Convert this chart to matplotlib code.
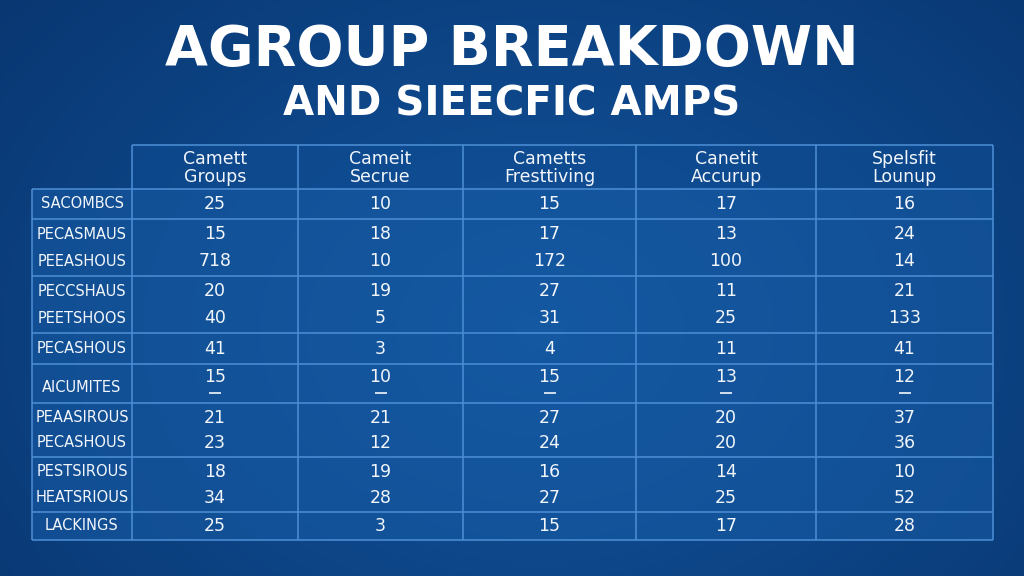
import numpy as np
import matplotlib
matplotlib.use("Agg")
import matplotlib.pyplot as plt
from matplotlib.patches import Rectangle

# --- data ---
title_top = "AGROUP BREAKDOWN"
title_bottom = "AND SIEECFIC AMPS"

col_headers = ["Camett\nGroups", "Cameit\nSecrue", "Cametts\nFresttiving",
               "Canetit\nAccurup", "Spelsfit\nLounup"]

row_labels = ["SACOMBCS", "PECASMAUS", "PEEASHOUS", "PECCSHAUS", "PEETSHOOS",
              "PECASHOUS", "AICUMITES", "PEAASIROUS", "PECASHOUS",
              "PESTSIROUS", "HEATSRIOUS", "LACKINGS"]

col_groups = [25, 15, 718, 20, 40, 41, 15, 21, 23, 18, 34, 25]
col_secrue = [10, 18, 10, 19, 5, 3, 10, 21, 12, 19, 28, 3]
col_frest = [15, 17, 172, 27, 31, 4, 15, 27, 24, 16, 27, 15]
col_accurup = [17, 13, 100, 11, 25, 11, 13, 20, 20, 14, 25, 17]
col_lounup = [16, 24, 14, 21, 133, 41, 12, 37, 36, 10, 52, 28]

# rows that share one bordered block
row_blocks = [[0], [1, 2], [3, 4], [5], [6], [7, 8], [9, 10], [11]]
dashed_rows = [6]  # rows with a small dash under the value

# --- layout (pixel coords) ---
W, H = 1024, 576
col_edges = [132, 298, 463, 636, 816, 993]
label_left = 32
header_top, header_bottom = 145, 189
block_edges = [189, 219, 276, 333, 364, 403, 457, 512, 540]

line_col = "#4d8fd6"
text_col = "#f2f6fb"

fig = plt.figure(figsize=(W / 100, H / 100), dpi=100)
ax = fig.add_axes([0, 0, 1, 1])
ax.set_xlim(0, W)
ax.set_ylim(H, 0)
ax.axis("off")

# background gradient
yy, xx = np.mgrid[0:H, 0:W]
r = np.sqrt(((xx - 540) / 700.0) ** 2 + ((yy - 330) / 520.0) ** 2)
t = np.clip(r, 0, 1)[..., None]
inner = np.array([0x12, 0x55, 0x9e]) / 255
outer = np.array([0x09, 0x37, 0x72]) / 255
bg = inner * (1 - t) + outer * t
ax.imshow(bg, extent=[0, W, H, 0], aspect="auto", zorder=0)

# table fills
ax.add_patch(Rectangle((col_edges[0], header_top), col_edges[-1] - col_edges[0],
                       header_bottom - header_top, facecolor="#0f4c92",
                       alpha=0.6, edgecolor="none", zorder=1))
ax.add_patch(Rectangle((label_left, block_edges[0]), col_edges[-1] - label_left,
                       block_edges[-1] - block_edges[0], facecolor="#175ca6",
                       alpha=0.55, edgecolor="none", zorder=1))

# grid lines
lw = 1.1
ax.hlines(header_top, col_edges[0], col_edges[-1], color=line_col, lw=lw, zorder=2)
ax.hlines(block_edges, label_left, col_edges[-1], color=line_col, lw=lw, zorder=2)
ax.vlines(col_edges, header_top, block_edges[-1], color=line_col, lw=lw, zorder=2)
ax.vlines(label_left, block_edges[0], block_edges[-1], color=line_col, lw=lw, zorder=2)

# titles
ax.text(W / 2, 50, title_top, ha="center", va="center", fontsize=40,
        fontweight="bold", color="white", family="DejaVu Sans", zorder=3)
ax.text(W / 2, 104, title_bottom, ha="center", va="center", fontsize=29,
        fontweight="bold", color="white", family="DejaVu Sans", zorder=3)

# headers
col_centers = [(a + b) / 2 for a, b in zip(col_edges[:-1], col_edges[1:])]
for cx, hdr in zip(col_centers, col_headers):
    ax.text(cx, (header_top + header_bottom) / 2 + 1, hdr, ha="center", va="center",
            fontsize=12.5, color=text_col, linespacing=1.0, zorder=3)

# body
columns = [col_groups, col_secrue, col_frest, col_accurup, col_lounup]
label_x = (label_left + col_edges[0]) / 2
for bi, block in enumerate(row_blocks):
    top, bottom = block_edges[bi], block_edges[bi + 1]
    h = bottom - top
    if len(block) == 1:
        ys = [top + h / 2]
    else:
        ys = [top + h * 0.27, top + h * 0.74]
    for ri, y in zip(block, ys):
        dashed = ri in dashed_rows
        val_y = y - 6 if dashed else y
        lab_y = y + 4 if dashed else y
        ax.text(label_x, lab_y, row_labels[ri], ha="center", va="center",
                fontsize=10.5, color=text_col, zorder=3)
        for cx, col in zip(col_centers, columns):
            ax.text(cx, val_y, str(col[ri]), ha="center", va="center",
                    fontsize=12.5, color=text_col, zorder=3)
            if dashed:
                ax.hlines(val_y + 15, cx - 6, cx + 6, color=text_col, lw=1.2, zorder=3)

fig.savefig("out.png", dpi=100)
